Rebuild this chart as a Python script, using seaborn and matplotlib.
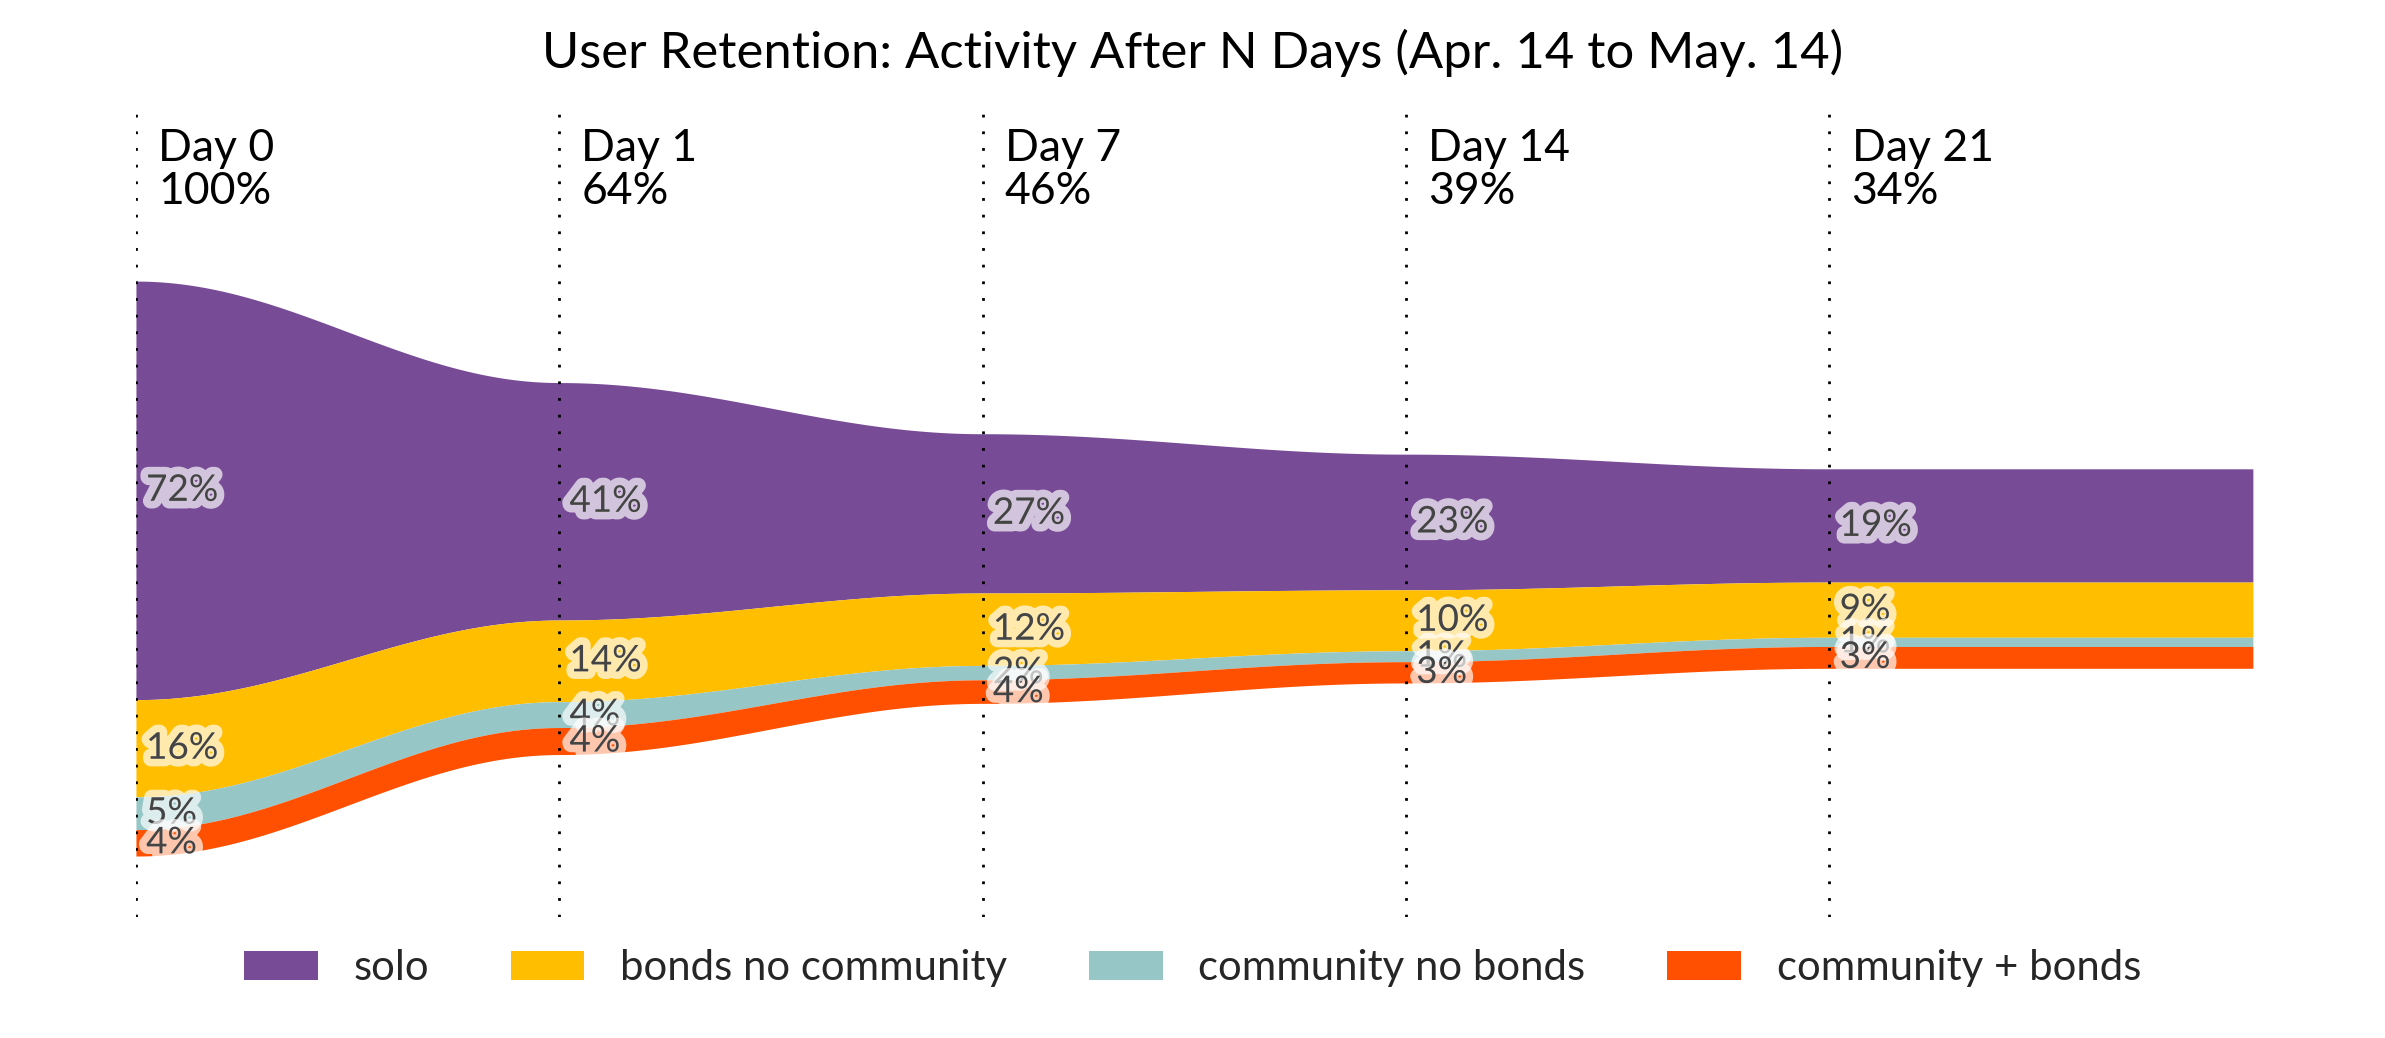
import numpy as np
import matplotlib
matplotlib.use("Agg")
import matplotlib.pyplot as plt
import matplotlib.patheffects as pe
from matplotlib.patches import Patch
import seaborn as sns
import math

# ---------------- data ----------------
days = ["Day 0", "Day 1", "Day 7", "Day 14", "Day 21"]
series = ["solo", "bonds no community", "community no bonds", "community + bonds"]
solo = [72.8, 41.3, 27.7, 23.6, 19.7]
bonds_no_community = [16.9, 14.2, 12.6, 10.6, 9.6]
community_no_bonds = [5.7, 4.5, 2.5, 1.9, 1.6]
community_and_bonds = [4.6, 4.7, 4.1, 3.7, 3.8]
colors = ["#784b96", "#ffbe00", "#97c6c6", "#fe5000"]
title = "User Retention: Activity After N Days (Apr. 14 to May. 14)"

# ---------------- style ----------------
sns.set_theme(style="white")
plt.rcParams["font.family"] = ["Lato", "DejaVu Sans"]

values = np.array([solo, bonds_no_community, community_no_bonds, community_and_bonds])
n = values.shape[1]

fig = plt.figure(figsize=(23.85, 10.38), dpi=100)
ax = fig.add_axes([0.0570, 0.1166, 0.8876, 0.7774])
ax.set_xlim(0, n)
ax.set_ylim(-60.6, 79.75)
ax.axis("off")


def smooth(vals, xs):
    out = np.empty_like(xs)
    for k, x in enumerate(xs):
        i = int(min(math.floor(x), n - 1))
        if i >= n - 1:
            out[k] = vals[n - 1]
        else:
            t = x - i
            s = (1 - math.cos(math.pi * t)) / 2
            out[k] = vals[i] + (vals[i + 1] - vals[i]) * s
    return out


xs = np.linspace(0, n, 2000)
interp = np.array([smooth(v, xs) for v in values])
total = interp.sum(axis=0)
top = total / 2.0
upper = top.copy()
for j in range(len(series)):
    lower = upper - interp[j]
    ax.fill_between(xs, lower, upper, color=colors[j], linewidth=0, zorder=1)
    upper = lower

# dotted day lines
for i in range(n):
    ax.axvline(i, color="black", linestyle=(0, (1, 5)), linewidth=2, zorder=3)

# day headers
px = 5.75  # pixels per percent (for text offsets)
for i, d in enumerate(days):
    tot = math.floor(round(values[:, i].sum(), 6))
    ax.text(i + 0.052, (568.5 - 161) / px, d, ha="left", va="baseline",
            fontsize=32, color="black")
    ax.text(i + 0.052, (568.5 - 204) / px, f"{tot}%", ha="left", va="baseline",
            fontsize=32, color="black")

# segment labels
halo = [pe.withStroke(linewidth=11, foreground=(1, 1, 1, 0.68))]
for i in range(n):
    tot = values[:, i].sum()
    up = tot / 2.0
    for j in range(len(series)):
        v = values[j, i]
        mid = up - v / 2.0
        ax.text(i + 0.024, mid, f"{math.floor(v)}%", ha="left", va="center",
                fontsize=26.5, color="#444444", path_effects=halo, zorder=5)
        up -= v

fig.text(0.5, 1 - 53 / 1038, title, ha="center", va="center", fontsize=36.5, color="black")

handles = [Patch(facecolor=c, edgecolor="none", label=s) for c, s in zip(colors, series)]
fig.legend(handles=handles, loc="center", bbox_to_anchor=(0.5, 0.0674), ncol=4,
           frameon=False, fontsize=30.2, handlelength=1.76, handleheight=0.69,
           handletextpad=0.85, columnspacing=1.95)

fig.savefig("out.png", dpi=100)
